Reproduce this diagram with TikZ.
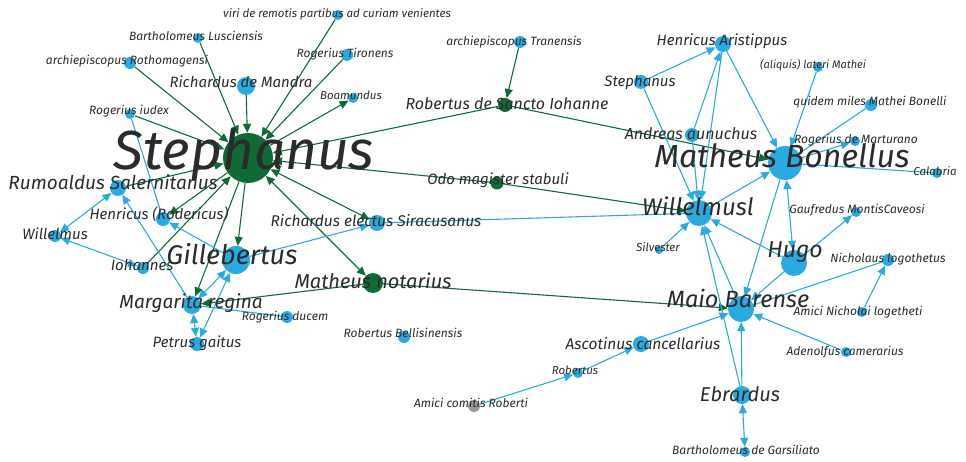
\documentclass[tikz,border=0pt]{standalone}
\usepackage{fontspec}
\setmainfont{Fira Sans}
\usetikzlibrary{arrows.meta,backgrounds}
\definecolor{sgreen}{HTML}{0E6B35}
\definecolor{sblue}{HTML}{29ABE2}
\definecolor{sgrey}{HTML}{9A9A9A}
\definecolor{stext}{HTML}{2B2B2B}
\tikzset{
  gn/.style={circle,fill=sgreen,inner sep=0pt,minimum size=#1},
  bn/.style={circle,fill=sblue,inner sep=0pt,minimum size=#1},
  nm/.style={anchor=base,inner sep=0pt,text=stext,font=\itshape\fontsize{#1}{#1}\selectfont},
  gline/.style={draw=sgreen,line width=1.1pt},
  bline/.style={draw=sblue,line width=1.1pt},
  tip/.style={-{Triangle[length=9pt,width=8pt]}},
  tips/.style={{Triangle[length=9pt,width=8pt]}-{Triangle[length=9pt,width=8pt]}},
}
\begin{document}
\begin{tikzpicture}[x=1pt,y=-1pt]
  \useasboundingbox (0,0) rectangle (966,462);
  % people
  \node[gn=50] (stA) at (248,158) {};
  \node[gn=14] (robSI) at (505,105) {};
  \node[gn=13] (odo) at (497,183) {};
  \node[gn=20] (matN) at (373,283) {};
  \node[bn=10] (viri) at (338,15) {};
  \node[bn=10] (bartL) at (198,38) {};
  \node[bn=12] (archR) at (130,63) {};
  \node[bn=12] (rogT) at (347,55) {};
  \node[bn=18] (richM) at (246,86) {};
  \node[bn=10] (boam) at (353,98) {};
  \node[bn=10] (rogI) at (130,114) {};
  \node[bn=16] (rum) at (118,188) {};
  \node[bn=14] (henR) at (163,219) {};
  \node[bn=12] (wil) at (55,236) {};
  \node[bn=16] (richE) at (377,223) {};
  \node[bn=12] (iohs) at (143,268) {};
  \node[bn=28] (gil) at (236,260) {};
  \node[bn=18] (marg) at (192,305) {};
  \node[bn=12] (rogD) at (287,317) {};
  \node[bn=14] (pet) at (197,344) {};
  \node[bn=12] (robB) at (404,337) {};
  \node[circle,fill=sgrey,inner sep=0pt,minimum size=12] (amC) at (474,406) {};
  \node[bn=12] (archT) at (520,42) {};
  \node[bn=16] (henA) at (723,44) {};
  \node[bn=14] (steph) at (641,82) {};
  \node[bn=10] (aliq) at (818,67) {};
  \node[bn=12] (quid) at (871,105) {};
  \node[bn=14] (andr) at (692,135) {};
  \node[bn=10] (rogM) at (855,141) {};
  \node[bn=34] (matB) at (785,163) {};
  \node[bn=10] (cal) at (937,173) {};
  \node[bn=26] (wilL) at (699,213) {};
  \node[bn=10] (gauf) at (856,212) {};
  \node[bn=8] (silv) at (659,250) {};
  \node[bn=26] (hugo) at (794,263) {};
  \node[bn=12] (nich) at (888,260) {};
  \node[bn=26] (maio) at (741,309) {};
  \node[bn=10] (amN) at (862,312) {};
  \node[bn=10] (aden) at (846,352) {};
  \node[bn=16] (asc) at (641,344) {};
  \node[bn=10] (rob) at (578,373) {};
  \node[bn=18] (ebr) at (742,395) {};
  \node[bn=10] (bartG) at (745,452) {};
  % names
  \node[nm=55] (t-stA) at (244,170) {Stephanus};
  \node[nm=16] (t-robSI) at (507,110) {Robertus de Sancto Iohanne};
  \node[nm=15] (t-odo) at (498,185) {Odo magister stabuli};
  \node[nm=20] (t-matN) at (373,288) {Matheus notarius};
  \node[nm=11.5] (t-viri) at (337,18) {viri de remotis partibus ad curiam venientes};
  \node[nm=12] (t-bartL) at (196,41) {Bartholomeus Lusciensis};
  \node[nm=12] (t-archR) at (127,65) {archiepiscopus Rothomagensi};
  \node[nm=12] (t-rogT) at (345,58) {Rogerius Tironens};
  \node[nm=15] (t-richM) at (241,88) {Richardus de Mandra};
  \node[nm=11.5] (t-boam) at (351,100) {Boamundus};
  \node[nm=12] (t-rogI) at (129,115) {Rogerius iudex};
  \node[nm=19] (t-rum) at (113,190) {Rumoaldus Salernitanus};
  \node[nm=15] (t-henR) at (159,220) {Henricus (Rodericus)};
  \node[nm=15] (t-wil) at (55,240) {Willelmus};
  \node[nm=15.5] (t-richE) at (376,227) {Richardus electus Siracusanus};
  \node[nm=15] (t-iohs) at (142,271) {Iohannes};
  \node[nm=27] (t-gil) at (232,265) {Gillebertus};
  \node[nm=19] (t-marg) at (191,308) {Margarita regina};
  \node[nm=12] (t-rogD) at (285,320) {Rogerius ducem};
  \node[nm=15] (t-pet) at (197,347) {Petrus gaitus};
  \node[nm=12] (t-robB) at (403,337) {Robertus Bellisinensis};
  \node[nm=12] (t-amC) at (471,407) {Amici comitis Roberti};
  \node[nm=12] (t-archT) at (514,46) {archiepiscopus Tranensis};
  \node[nm=15] (t-henA) at (722,46) {Henricus Aristippus};
  \node[nm=15] (t-steph) at (640,87) {Stephanus};
  \node[nm=11] (t-aliq) at (813,69) {(aliquis) lateri Mathei};
  \node[nm=12] (t-quid) at (870,106) {quidem miles Mathei Bonelli};
  \node[nm=16] (t-andr) at (691,140) {Andreas aunuchus};
  \node[nm=12] (t-rogM) at (856,144) {Rogerius de Marturano};
  \node[nm=32] (t-matB) at (782,168) {Matheus Bonellus};
  \node[nm=11.5] (t-cal) at (935,176) {Calabria};
  \node[nm=24] (t-wilL) at (698,216) {Willelmusl};
  \node[nm=12] (t-gauf) at (857,214) {Gaufredus MontisCaveosi};
  \node[nm=11.5] (t-silv) at (658,252) {Silvester};
  \node[nm=23] (t-hugo) at (795,258) {Hugo};
  \node[nm=12] (t-nich) at (888,263) {Nicholaus logothetus};
  \node[nm=23.5] (t-maio) at (738,307) {Maio Barense};
  \node[nm=12] (t-amN) at (858,315) {Amici Nicholai logetheti};
  \node[nm=12] (t-aden) at (845,355) {Adenolfus camerarius};
  \node[nm=15.5] (t-asc) at (643,349) {Ascotinus cancellarius};
  \node[nm=11.5] (t-rob) at (575,374) {Robertus};
  \node[nm=20] (t-ebr) at (740,401) {Ebrardus};
  \node[nm=12] (t-bartG) at (746,454) {Bartholomeus de Garsiliato};
  % ties
  \begin{scope}[on background layer]
    \draw[gline,tip] (archR) -- (stA);
    \draw[gline,tip] (bartL) -- (stA);
    \draw[gline,tip] (richM) -- (stA);
    \draw[gline,tip] (viri) -- (stA);
    \draw[gline,tip] (rogT) -- (stA);
    \draw[gline,tip] (stA) -- (boam);
    \draw[gline,tip] (rogI) -- (stA);
    \draw[gline,tip] (robSI) -- (stA);
    \draw[gline,tip] (odo) -- (stA);
    \draw[gline,tip] (odo) -- (wilL);
    \draw[gline,tip] (robSI) -- (matB);
    \draw[gline,tip] (archT) -- (robSI);
    \draw[gline,tips] (stA) -- (richE);
    \draw[gline,tips] (stA) -- (matN);
    \draw[gline,tip] (stA) -- (gil);
    \draw[gline,tip] (stA) -- (henR);
    \draw[gline,tip] (iohs) -- (stA);
    \draw[gline,tip] (rum) -- (stA);
    \draw[gline,tip] (stA) -- (marg);
    \draw[gline,tip] (matN) -- (marg);
    \draw[gline,tip] (matN) -- (maio);
    \draw[bline] (henR) -- (rogI);
    \draw[bline,tips] (rum) -- (wil);
    \draw[bline,tips] (wil) -- (iohs);
    \draw[bline,tip] (gil) -- (henR);
    \draw[bline,tip] (marg) -- (rum);
    \draw[bline,tip] (gil) -- (richE);
    \draw[bline] (richE) -- (wilL);
    \draw[bline,tips] (gil) -- (marg);
    \draw[bline,tips] (marg) -- (pet);
    \draw[bline,tips] (gil) -- (pet);
    \draw[bline] (marg) -- (rogD);
    \draw[bline,tip] (steph) -- (henA);
    \draw[bline,tip] (steph) -- (wilL);
    \draw[bline,tip] (andr) -- (henA);
    \draw[bline,tip] (henA) -- (wilL);
    \draw[bline,tip] (andr) -- (wilL);
    \draw[bline,tip] (henA) -- (matB);
    \draw[bline,tip] (aliq) -- (matB);
    \draw[bline] (quid) -- (matB);
    \draw[bline,tip] (matB) -- (rogM);
    \draw[bline] (matB) -- (cal);
    \draw[bline,tip] (wilL) -- (matB);
    \draw[bline,tips] (matB) -- (hugo);
    \draw[bline,tip] (matB) -- (maio);
    \draw[bline,tip] (hugo) -- (wilL);
    \draw[bline,tip] (hugo) -- (gauf);
    \draw[bline,tip] (hugo) -- (maio);
    \draw[bline,tip] (silv) -- (wilL);
    \draw[bline,tip] (maio) -- (wilL);
    \draw[bline,tip] (ebr) -- (wilL);
    \draw[bline] (nich) -- (maio);
    \draw[bline,tip] (amN) -- (nich);
    \draw[bline,tip] (aden) -- (maio);
    \draw[bline,tip] (asc) -- (maio);
    \draw[bline,tip] (rob) -- (asc);
    \draw[bline,tip] (amC) -- (rob);
    \draw[bline,tip] (ebr) -- (maio);
    \draw[bline,tips] (ebr) -- (bartG);
  \end{scope}
\end{tikzpicture}
\end{document}
